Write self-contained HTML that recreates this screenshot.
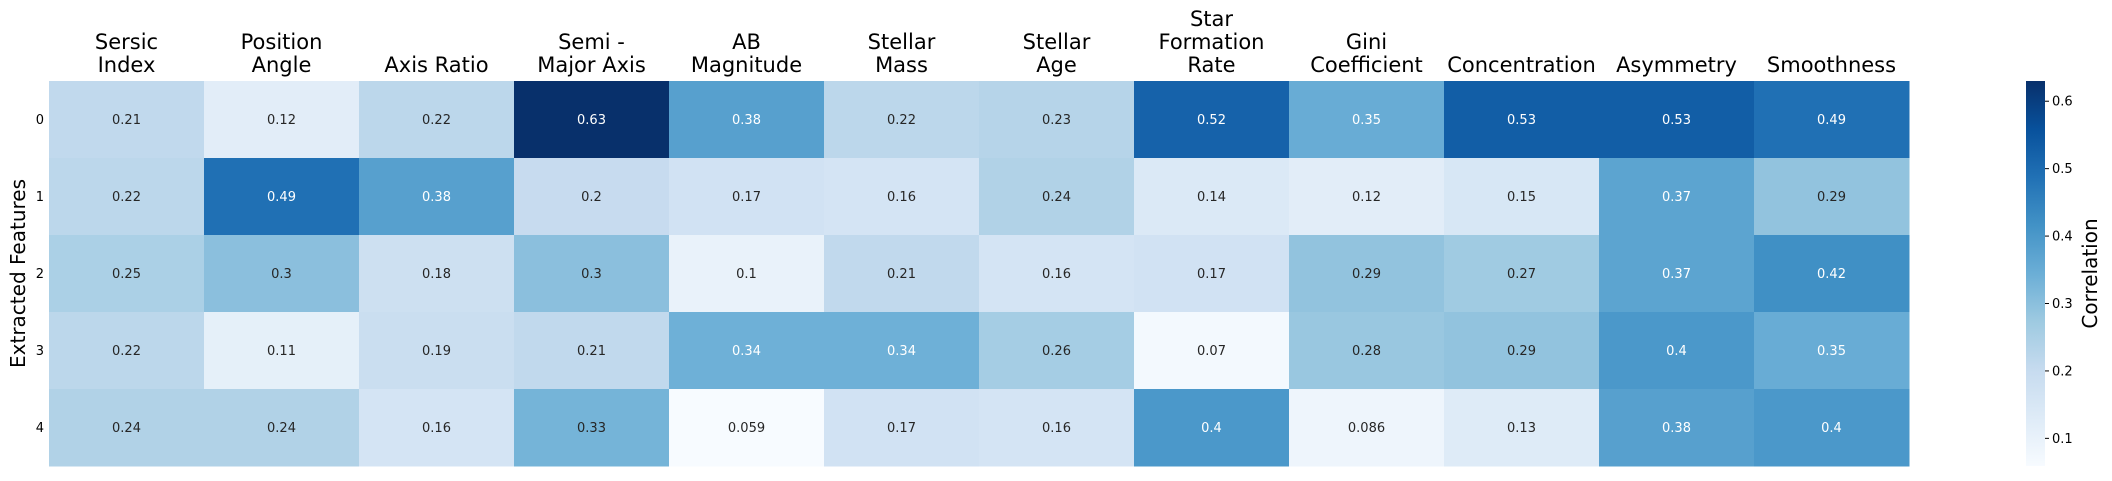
<!DOCTYPE html>
<html><head><meta charset="utf-8"><style>
body{margin:0;background:#fff;}
svg text{font-family:"DejaVu Sans","Liberation Sans",sans-serif;}
</style></head><body>
<svg id="chart" width="2112" height="476" xmlns="http://www.w3.org/2000/svg"></svg>
<script>
const columns = [["Sersic","Index"],["Position","Angle"],["Axis Ratio"],["Semi -","Major Axis"],["AB","Magnitude"],["Stellar","Mass"],["Stellar","Age"],["Star","Formation","Rate"],["Gini","Coefficient"],["Concentration"],["Asymmetry"],["Smoothness"]];
const rowLabels = ["0","1","2","3","4"];
const row0 = [0.21,0.12,0.22,0.63,0.38,0.22,0.23,0.52,0.35,0.53,0.53,0.49];
const row1 = [0.22,0.49,0.38,0.2,0.17,0.16,0.24,0.14,0.12,0.15,0.37,0.29];
const row2 = [0.25,0.3,0.18,0.3,0.1,0.21,0.16,0.17,0.29,0.27,0.37,0.42];
const row3 = [0.22,0.11,0.19,0.21,0.34,0.34,0.26,0.07,0.28,0.29,0.4,0.35];
const row4 = [0.24,0.24,0.16,0.33,0.059,0.17,0.16,0.4,0.086,0.13,0.38,0.4];
const cbTicks = [0.1,0.2,0.3,0.4,0.5,0.6];

const rows=[row0,row1,row2,row3,row4];
const svg=document.getElementById('chart');
const NS='http://www.w3.org/2000/svg';
const all=rows.flat();
const vmin=Math.min(...all), vmax=Math.max(...all);
const X0=49,X1=1909,Y0=81,Y1=466;
const cw=(X1-X0)/columns.length, rh=(Y1-Y0)/rows.length;
const xs=i=>X0+i*cw, ys=j=>Y0+j*rh;
const stops=["#f7fbff","#deebf7","#c6dbef","#9ecae1","#6baed6","#4292c6","#2171b5","#08519c","#08306b"].map(h=>[1,3,5].map(k=>parseInt(h.substr(k,2),16)));
function cmap(t){t=Math.max(0,Math.min(1,t));const p=t*8,i=Math.min(7,Math.floor(p)),f=p-i;return stops[i].map((c,k)=>Math.round(c+(stops[i+1][k]-c)*f));}
function lum(c){const l=c.map(v=>{v/=255;return v<=0.03928?v/12.92:Math.pow((v+0.055)/1.055,2.4)});return 0.2126*l[0]+0.7152*l[1]+0.0722*l[2];}
function el(tag,attrs,txt){const e=document.createElementNS(NS,tag);for(const k in attrs)e.setAttribute(k,attrs[k]);if(txt!==undefined)e.textContent=txt;svg.appendChild(e);return e;}
rows.forEach((r,j)=>{r.forEach((v,i)=>{
  const c=cmap((v-vmin)/(vmax-vmin));
  const rect=el('rect',{x:xs(i),y:ys(j),width:cw+0.5,height:rh+0.5,fill:`rgb(${c})`});
  
  
  const t=el('text',{x:xs(i)+cw/2,y:ys(j)+rh/2+4.5,'font-size':13,'text-anchor':'middle',fill:lum(c)>0.408?'#262626':'#ffffff'},String(v));
  
  
});});
rows.forEach((r,j)=>{
  const t=el('text',{x:44,y:ys(j)+rh/2+4.5,'font-size':13,'text-anchor':'end',fill:'#000'},rowLabels[j]);
  
  
});
columns.forEach((lines,i)=>{
  lines.forEach((ln,k)=>{
    const y=72-(lines.length-1-k)*23;
    const t=el('text',{x:xs(i)+cw/2,y:y,'font-size':21,'text-anchor':'middle',fill:'#000'},ln);
    
    
  });
});
const yt=el('text',{x:0,y:0,'font-size':20,'text-anchor':'middle',transform:`translate(25,${(Y0+Y1)/2}) rotate(-90)`},'Extracted Features');


// colorbar
const CX=2026,CW=19;
const defs=el('defs',{});
const lg=document.createElementNS(NS,'linearGradient');
lg.setAttribute('id','cbg');lg.setAttribute('x1','0');lg.setAttribute('y1','1');lg.setAttribute('x2','0');lg.setAttribute('y2','0');
for(let s=0;s<=8;s++){const st=document.createElementNS(NS,'stop');st.setAttribute('offset',s/8);st.setAttribute('stop-color',`rgb(${stops[s]})`);lg.appendChild(st);}
defs.appendChild(lg);
const cb=el('rect',{x:CX,y:Y0,width:CW,height:Y1-Y0,fill:'url(#cbg)'});


const cy=v=>Y1-(v-vmin)/(vmax-vmin)*(Y1-Y0);
cbTicks.forEach(v=>{
  const y=cy(v);
  const ln=el('line',{x1:CX+CW,x2:CX+CW+4,y1:y,y2:y,stroke:'#000','stroke-width':1});
  
  
  const t=el('text',{x:CX+CW+7,y:y+4.5,'font-size':13,fill:'#000'},v.toFixed(1));
  
  
});
const ct=el('text',{x:0,y:0,'font-size':20,'text-anchor':'middle',transform:`translate(2097,${(Y0+Y1)/2}) rotate(-90)`},'Correlation');


</script>
</body></html>
